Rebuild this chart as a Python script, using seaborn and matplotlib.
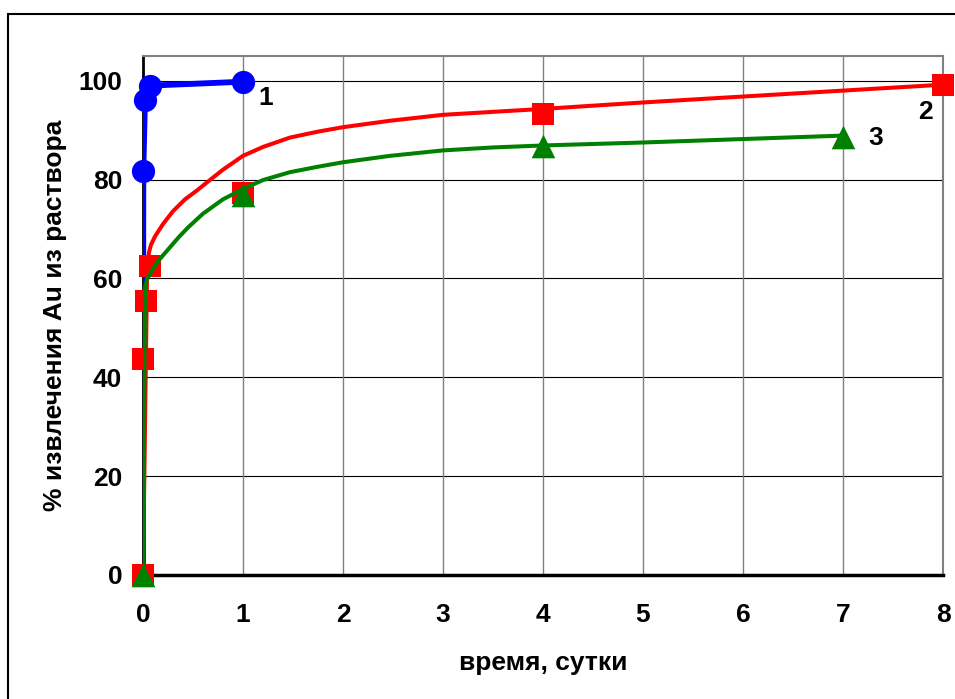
import matplotlib
matplotlib.use("Agg")
import matplotlib.pyplot as plt
import seaborn as sns
import pandas as pd
from matplotlib.patches import Rectangle

# ---- data ----
# series 1 (blue circles)
t1 = [0, 0.003, 0.02, 0.065, 1]
y1 = [0, 81.7, 96.1, 99.0, 99.8]
# series 2 (red squares)
t2 = [0, 0.003, 0.025, 0.065, 1, 4, 8]
y2 = [0, 43.6, 55.4, 62.6, 77.2, 93.3, 99.2]
# series 3 (green triangles)
t3 = [0, 1, 4, 7]
y3 = [0, 76.8, 86.7, 88.7]
# smoothed curves for series 2 and 3
c2_t = [0, 0.04, 0.05, 0.06, 0.08, 0.12, 0.2, 0.3, 0.42, 0.54, 0.65, 0.8, 1, 1.2, 1.47, 1.75, 2, 2.47, 3, 3.5, 4, 5, 6, 7, 8]
c2_y = [0, 60.0, 63.5, 65.3, 66.8, 68.5, 71.0, 73.6, 76.0, 77.8, 79.6, 82.0, 84.8, 86.6, 88.5, 89.7, 90.6, 91.9, 93.1, 93.7, 94.3, 95.6, 96.8, 98.0, 99.2]
c3_t = [0, 0.02, 0.04, 0.07, 0.15, 0.27, 0.36, 0.45, 0.6, 0.8, 1, 1.2, 1.47, 1.75, 2, 2.47, 3, 3.5, 4, 5, 6, 7]
c3_y = [0, 58.2, 59.8, 60.9, 63.5, 66.3, 68.4, 70.3, 73.1, 76.0, 78.1, 79.9, 81.5, 82.6, 83.5, 84.8, 85.9, 86.5, 86.9, 87.5, 88.2, 88.9]

x_ticks = [0, 1, 2, 3, 4, 5, 6, 7, 8]
y_ticks = [0, 20, 40, 60, 80, 100]
series_names = ["1", "2", "3"]
x_label = "время, сутки"
y_label = "% извлечения Au из раствора"

sns.set_theme(style="white")
plt.rcParams['font.family'] = ['Liberation Sans', 'DejaVu Sans']
plt.rcParams['font.weight'] = 'bold'
plt.rcParams['text.color'] = 'black'
plt.rcParams['axes.labelcolor'] = 'black'
plt.rcParams['xtick.color'] = 'black'
plt.rcParams['ytick.color'] = 'black'

FS = 19

fig = plt.figure(figsize=(9.55, 6.99), dpi=100)
ax = fig.add_axes([143/955, 1-575/699, 800/955, (575-56)/699])

BLUE, RED, GREEN = "#0000FF", "#FF0000", "#008000"

# grid
for v in y_ticks[1:]:
    ax.axhline(v, color="black", lw=0.8, zorder=0.5)
for v in x_ticks[1:]:
    ax.axvline(v, color="#808080", lw=1.0, zorder=0.5)

# series 1
sns.lineplot(x=t1, y=y1, ax=ax, color=BLUE, lw=4.2, sort=False, estimator=None, zorder=3)
sns.scatterplot(x=t1[1:], y=y1[1:], ax=ax, color=BLUE, marker="o", s=280, linewidth=0, zorder=3.1, clip_on=False)
# series 2
sns.lineplot(x=c2_t, y=c2_y, ax=ax, color=RED, lw=2.9, sort=False, estimator=None, zorder=4)
sns.scatterplot(x=t2, y=y2, ax=ax, color=RED, marker="s", s=245, linewidth=0, zorder=4.1, clip_on=False)
# series 3
sns.lineplot(x=c3_t, y=c3_y, ax=ax, color=GREEN, lw=2.9, sort=False, estimator=None, zorder=5)
sns.scatterplot(x=t3, y=y3, ax=ax, color=GREEN, marker="^", s=290, linewidth=0, zorder=5.1, clip_on=False)

# series labels
lab_pos = [(1.23, 96.6), (7.82, 93.7), (7.33, 88.5)]
for name, (lx, ly) in zip(series_names, lab_pos):
    ax.text(lx, ly, name, fontsize=FS, fontweight="bold", ha="center", va="center", zorder=6)

ax.set_xlim(0, 8)
ax.set_ylim(0, 105)
ax.set_xticks(x_ticks)
ax.set_yticks(y_ticks)
ax.set_xticklabels([str(v) for v in x_ticks], fontsize=FS, fontweight="bold")
ax.set_yticklabels([str(v) for v in y_ticks], fontsize=FS, fontweight="bold")
ax.tick_params(axis="both", direction="out", length=5, width=2.5, color="black")
ax.tick_params(axis="x", pad=15)
ax.tick_params(axis="y", pad=10)

for s in ["left", "bottom"]:
    ax.spines[s].set_color("black")
ax.spines["left"].set_linewidth(2)
ax.spines["bottom"].set_linewidth(2.5)
for s in ["top", "right"]:
    ax.spines[s].set_color("#808080")
    ax.spines[s].set_linewidth(1.5)
    ax.spines[s].set_visible(True)

ax.set_xlabel(x_label, fontsize=FS, fontweight="bold")
ax.set_ylabel(y_label, fontsize=FS, fontweight="bold")
ax.xaxis.set_label_coords(0.5, (575-663)/519)
ax.xaxis.label.set_verticalalignment("center")
ax.yaxis.set_label_coords((55-143)/800, 0.5)
ax.yaxis.label.set_verticalalignment("center")
ax.legend_ = None

# outer chart border (cut off at the right and bottom)
fig.patches.append(Rectangle((8/955, -0.2), 1.5, 1.2 - 14/699, transform=fig.transFigure,
                             fill=False, lw=1.5, edgecolor="black", clip_on=False))

fig.savefig("out.png", dpi=100)
